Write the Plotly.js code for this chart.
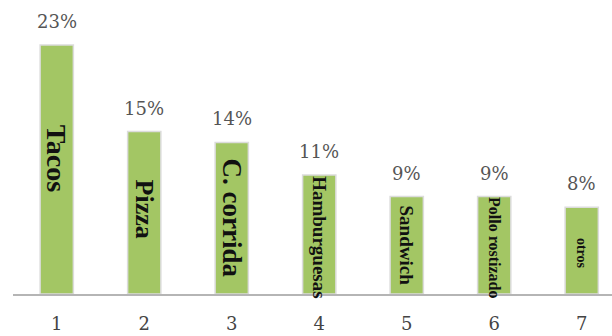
<!DOCTYPE html>
<html>
<head>
<meta charset="utf-8">
<script src="https://cdn.plot.ly/plotly-3.0.1.min.js"></script>
<style>html,body{margin:0;padding:0;background:#fff;}#chart{width:612px;height:336px;}</style>
</head>
<body>
<div id="chart"></div>
<script>
const positions = [1, 2, 3, 4, 5, 6, 7];
const tickLabels = ["1", "2", "3", "4", "5", "6", "7"];
const foods = ["Tacos", "Pizza", "C. corrida", "Hamburguesas", "Sandwich", "Pollo rostizado", "otros"];
const percents = [23, 15, 14, 11, 9, 9, 8];
const foodFontSizes = [28, 26, 27, 19, 19, 16, 14];
const foodShift = [11, 4, 0, -3, 0, -2, -3];

const trace = {
  type: "bar",
  x: positions,
  y: percents,
  width: 0.38,
  marker: {color: "#a3c664", line: {color: "#dcdcdc", width: 1.5}},
  hoverinfo: "none"
};

const annotations = [];
positions.forEach((p, i) => {
  annotations.push({
    x: p, y: percents[i], xref: "x", yref: "y",
    text: percents[i] + "%", showarrow: false,
    yanchor: "bottom", yshift: 11,
    font: {family: "DejaVu Serif", size: 18, color: "#555555"}
  });
  annotations.push({
    x: p, y: percents[i] / 2, xref: "x", yref: "y",
    text: "<b>" + foods[i] + "</b>", showarrow: false,
    textangle: 90, yshift: foodShift[i],
    font: {family: "Liberation Serif", size: foodFontSizes[i], color: "#111111"}
  });
});

const layout = {
  width: 612, height: 336,
  margin: {l: 13, r: 0, t: 0, b: 42},
  paper_bgcolor: "#ffffff", plot_bgcolor: "#ffffff",
  showlegend: false,
  xaxis: {
    range: [0.5, 7.346],
    tickvals: positions, ticktext: tickLabels,
    showgrid: false, zeroline: false,
    showline: true, linecolor: "#b5b5b5", linewidth: 2,
    ticks: "outside", ticklen: 12, tickcolor: "rgba(0,0,0,0)",
    tickfont: {family: "DejaVu Serif", size: 18, color: "#444444"}
  },
  yaxis: {
    range: [0, 27.15],
    visible: false, showgrid: false, zeroline: false
  },
  annotations: annotations
};

Plotly.newPlot("chart", [trace], layout, {displayModeBar: false, staticPlot: true});
</script>
</body>
</html>
